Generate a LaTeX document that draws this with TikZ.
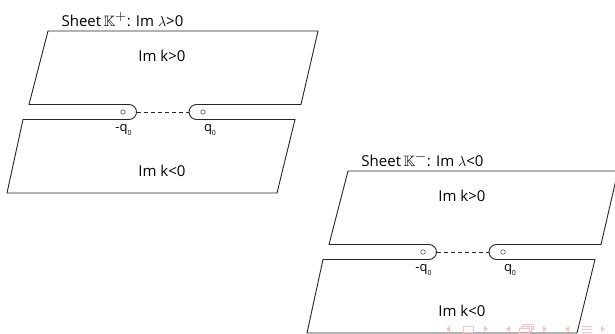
\documentclass[tikz,border=0pt]{standalone}
\usepackage{amssymb}
\usepackage{fontspec}
\setmainfont{Open Sans}
\tikzset{
  edge/.style={line width=0.9pt, draw=black!85, line join=miter},
  cut/.style={line width=0.8pt, draw=black!85, dash pattern=on 4pt off 3pt},
  branchpt/.style={circle, draw=black!80, line width=0.45pt, inner sep=0pt, minimum size=4.6pt},
  lbl/.style={font=\fontsize{15}{17}\selectfont, inner sep=0pt},
  qlbl/.style={font=\fontsize{13}{15}\selectfont, inner sep=0pt},
  navcol/.style={fill=red!25, draw=none},
  navline/.style={draw=red!25, line width=0.8pt},
}
% one sheet of the Riemann surface: upper and lower half planes with the cut
\newcommand\drawsheet[3]{%
  \begin{scope}[shift={(#2,#3)}]
    \draw[edge] (29,-104.5) -- (48,-31) -- (318,-31) -- (301,-104.5)
      -- (196.5,-104.5) arc[start angle=90, end angle=270, radius=7.5pt]
      -- (295,-119.5) -- (277,-193) -- (7,-193) -- (23,-119.5)
      -- (129,-119.5) arc[start angle=-90, end angle=90, radius=7.5pt]
      -- cycle;
    \coordinate (#1lt) at (136.5,-112);
    \coordinate (#1rt) at (189,-112);
    \draw[cut] (#1lt) -- (#1rt);
    \node[branchpt] (#1mq) at (123,-112) {};
    \node[branchpt] (#1pq) at (203,-112) {};
    \node[qlbl] (#1mql) at (123.5,-130) {-q\raisebox{-0.45ex}{\fontsize{7}{8}\selectfont 0}};
    \node[qlbl] (#1pql) at (210,-130) {q\raisebox{-0.45ex}{\fontsize{7}{8}\selectfont 0}};
    \node[lbl] (#1up) at (162,-56) {Im k>0};
    \node[lbl] (#1lo) at (162,-171) {Im k<0};
  \end{scope}}
\newcommand\sheetname[1]{Sheet\,$\mathbb{K}^{\textstyle #1}$: Im $\lambda$}
\begin{document}
\begin{tikzpicture}[x=1pt, y=1pt]
  \useasboundingbox (0,0) rectangle (615,-334);
  \clip (0,0) rectangle (615,-334);
  \fill[white] (0,0) rectangle (615,-334);

  \drawsheet{p}{0}{0}
  \node[lbl] (ptitle) at (122.5,-19.5) {\sheetname{+}>0};

  \drawsheet{m}{300}{-140}
  \node[lbl] (mtitle) at (422.5,-159.5) {\sheetname{-}<0};

  % navigation symbols along the bottom edge
  \fill[navcol] (446,-329) -- (450,-326) -- (450,-332) -- cycle;
  \draw[navline] (463,-326) rectangle (473,-332);
  \fill[navcol] (488,-329) -- (484,-326) -- (484,-332) -- cycle;
  \fill[navcol] (506,-329) -- (510,-326) -- (510,-332) -- cycle;
  \draw[navline] (519,-328) rectangle (529,-333);
  \draw[navline] (521,-328) -- (521,-326) -- (531,-326) -- (531,-331) -- (529,-331);
  \draw[navline] (523,-326) -- (523,-324) -- (533,-324) -- (533,-329) -- (531,-329);
  \fill[navcol] (547,-329) -- (543,-326) -- (543,-332) -- cycle;
  \fill[navcol] (565,-329) -- (569,-326) -- (569,-332) -- cycle;
  \draw[navline] (582,-326) -- (592,-326);
  \draw[navline] (582,-329) -- (592,-329);
  \draw[navline] (582,-332) -- (592,-332);
  \fill[navcol] (605,-329) -- (601,-326) -- (601,-332) -- cycle;
\end{tikzpicture}
\end{document}
